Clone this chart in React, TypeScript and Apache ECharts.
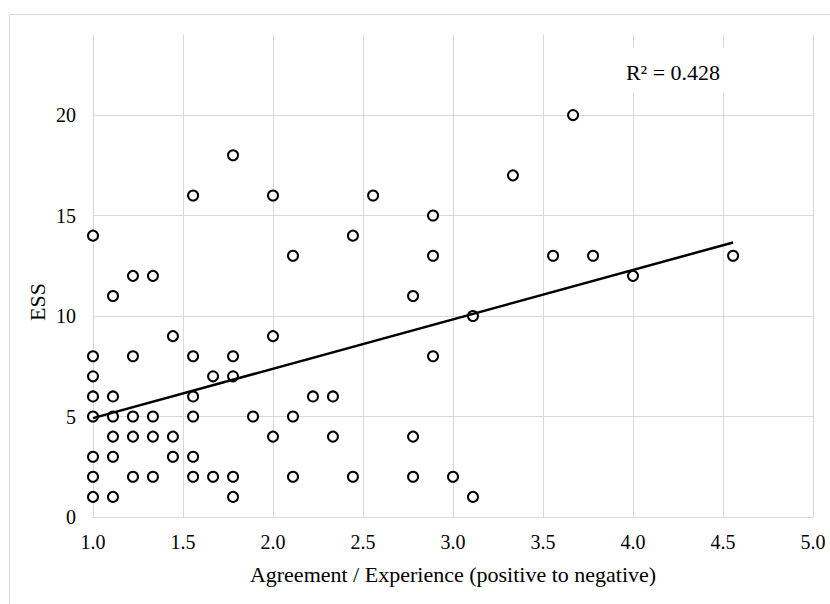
import React, { useEffect, useRef } from "react";
import * as echarts from "echarts";

// Agreement / Experience score (x) and ESS (y) for each respondent
const agreement = [
  1, 1, 1, 1, 1, 1, 1, 1,
  1.111, 1.111, 1.111, 1.111, 1.111, 1.111,
  1.222, 1.222, 1.222, 1.222, 1.222,
  1.333, 1.333, 1.333, 1.333,
  1.444, 1.444, 1.444,
  1.556, 1.556, 1.556, 1.556, 1.556, 1.556,
  1.667, 1.667,
  1.778, 1.778, 1.778, 1.778, 1.778,
  1.889,
  2, 2, 2,
  2.111, 2.111, 2.111,
  2.222,
  2.333, 2.333,
  2.444, 2.444,
  2.556,
  2.778, 2.778, 2.778,
  2.889, 2.889, 2.889,
  3,
  3.111, 3.111,
  3.333, 3.556, 3.667, 3.778, 4, 4.556,
];
const ess = [
  14, 8, 7, 6, 5, 3, 2, 1,
  11, 6, 5, 4, 3, 1,
  12, 8, 5, 4, 2,
  12, 5, 4, 2,
  9, 4, 3,
  16, 8, 6, 5, 3, 2,
  7, 2,
  18, 8, 7, 2, 1,
  5,
  16, 9, 4,
  13, 5, 2,
  6,
  6, 4,
  14, 2,
  16,
  11, 4, 2,
  15, 13, 8,
  2,
  10, 1,
  17, 13, 20, 13, 12, 13,
];

// Linear trend line end points
const trendX = [1.0, 4.556];
const trendY = [4.92, 13.66];

const rSquaredLabel = "R\u00B2 = 0.428";
const xAxisTitle = "Agreement / Experience (positive to negative)";
const yAxisTitle = "ESS";

export default function App() {
  const ref = useRef<HTMLDivElement>(null);

  useEffect(() => {
    if (!ref.current) return;
    const chart = echarts.init(ref.current, undefined, { renderer: "svg" });
    const font = "'Liberation Serif', 'Times New Roman', serif";
    const grid = "#d9d9d9";

    chart.setOption({
      animation: false,
      backgroundColor: "#ffffff",
      grid: {
        left: 93,
        right: 17,
        top: 34.7,
        bottom: 87,
        containLabel: false,
        outerBoundsMode: "none",
      },
      xAxis: {
        type: "value",
        min: 1,
        max: 5,
        interval: 0.5,
        axisLine: { show: true, lineStyle: { color: grid, width: 1 } },
        axisTick: { show: false },
        splitLine: { show: true, lineStyle: { color: grid, width: 1 } },
        axisLabel: {
          color: "#000",
          fontFamily: font,
          fontSize: 20,
          margin: 15,
          formatter: (v: number) => v.toFixed(1),
        },
        name: xAxisTitle,
        nameLocation: "middle",
        nameGap: 46,
        nameTextStyle: { color: "#000", fontFamily: font, fontSize: 22 },
      },
      yAxis: {
        type: "value",
        min: 0,
        max: 24,
        interval: 5,
        axisLine: { show: false },
        axisTick: { show: false },
        splitLine: {
          show: true,
          lineStyle: {
            color: [grid, grid, grid, grid, grid, "rgba(0,0,0,0)"],
            width: 1,
          },
        },
        axisLabel: {
          color: "#000",
          fontFamily: font,
          fontSize: 20,
          margin: 17,
          showMaxLabel: false,
        },
      },
      series: [
        {
          type: "scatter",
          data: agreement.map((x, i) => [x, ess[i]]),
          symbol: "circle",
          symbolSize: 10,
          itemStyle: { color: "#ffffff", borderColor: "#000000", borderWidth: 2, opacity: 1 },
          z: 2,
        },
        {
          type: "line",
          data: trendX.map((x, i) => [x, trendY[i]]),
          showSymbol: false,
          symbol: "none",
          lineStyle: { color: "#000000", width: 2.5 },
          z: 3,
        },
      ],
      graphic: [
        {
          type: "rect",
          shape: { x: 9.5, y: 14.5, width: 900, height: 700 },
          style: { fill: "none", stroke: grid, lineWidth: 1 },
          silent: true,
          z: 0,
        },
        {
          type: "text",
          x: 37,
          y: 302,
          rotation: Math.PI / 2,
          style: {
            text: yAxisTitle,
            fill: "#000",
            font: `22px ${font}`,
            textAlign: "center",
            textVerticalAlign: "middle",
          },
          silent: true,
          z: 11,
        },
        {
          type: "rect",
          shape: { x: 614, y: 48, width: 118, height: 45 },
          style: { fill: "#ffffff" },
          silent: true,
          z: 10,
        },
        {
          type: "text",
          x: 673,
          y: 72,
          style: {
            text: rSquaredLabel,
            fill: "#000",
            font: `22px ${font}`,
            textAlign: "center",
            textVerticalAlign: "middle",
          },
          silent: true,
          z: 11,
        },
      ],
    });

    return () => chart.dispose();
  }, []);

  return (
    <div
      ref={ref}
      style={{ position: "absolute", left: 0, top: 0, width: 830, height: 604 }}
    />
  );
}
